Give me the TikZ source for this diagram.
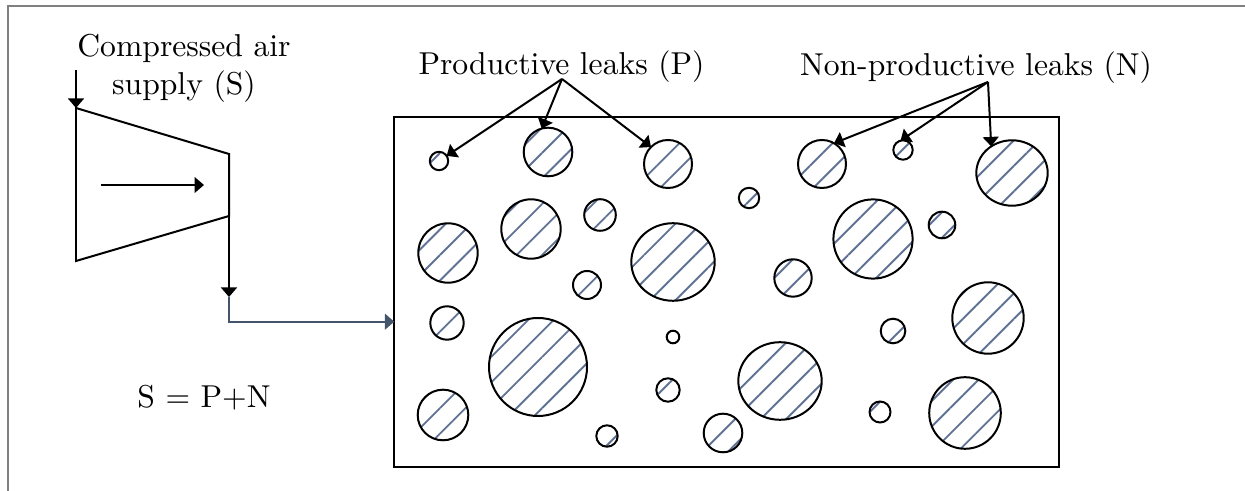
\documentclass[tikz,border=0pt]{standalone}
\usetikzlibrary{arrows.meta,shapes.geometric,patterns.meta}

\definecolor{pipeblue}{HTML}{44546A}
\definecolor{hatchblue}{HTML}{5F7294}
\definecolor{framegray}{HTML}{808080}
\newcommand{\pxu}{0.316pt}

\begin{document}
\begin{tikzpicture}[x=0.316pt, y=-0.316pt,
                    line width=0.63pt,
                    >={Triangle[length=3pt,width=5pt]}]
    \tikzstyle{label}=[inner sep=0pt, font=\fontsize{10}{12}\selectfont]
    \tikzstyle{pipe}=[draw=black, ->]
    \tikzstyle{flow}=[draw=pipeblue, ->]
    \tikzstyle{pointer}=[draw=black, ->]
    \tikzset{leak/.style={circle, draw=black, inner sep=0pt, outer sep=0pt,
                          minimum size=2*#1*\pxu,
                          pattern={Lines[angle=45,distance=5.7pt,line width=0.6pt]},
                          pattern color=hatchblue},
             oval/.style 2 args={leak=1, ellipse, minimum width=2*#1*\pxu, minimum height=2*#2*\pxu}}

    \useasboundingbox (0,0) rectangle (1245,491);
    \draw[framegray] (8,491) -- (8,6) -- (1245,6);

    % compressor
    \coordinate (cin) at (76,70);
    \coordinate (ca) at (76,108);
    \coordinate (cb) at (229,154);
    \coordinate (cc) at (229,216);
    \coordinate (cd) at (76,261);
    \coordinate (cout) at (229,297);
    \coordinate (sa) at (101,185);
    \coordinate (sb) at (204,185);
    \draw (ca) -- (cb) -- (cc) -- (cd) -- cycle;
    \draw[pipe] (cin) -- (ca);
    \draw[pipe] (sa) -- (sb);
    \draw[pipe] (cc) -- (cout);

    \node[label, align=center] (supply) at (184,68) {Compressed air\\supply (S)};
    \node[label, anchor=base] (balance) at (204,408) {S $=$ P$+$N};

    % tank
    \draw (394.3,116.7) rectangle (1059.3,466.7);
    \coordinate (tankin) at (394.3,321.7);
    \draw[flow] (cout) |- (tankin);

    % leaks
    \node[leak=9.2] (l1) at (439,161) {};
    \node[leak=24.3] (l2) at (548,152) {};
    \node[leak=24] (l3) at (668,164) {};
    \node[leak=24] (l4) at (822,164) {};
    \node[leak=9.7] (l5) at (903,150) {};
    \node[oval={35.7}{32.7}] (l6) at (1012,173) {};
    \node[leak=29.7] (l7) at (448,253) {};
    \node[leak=29.7] (l8) at (531,229) {};
    \node[leak=15.8] (l9) at (600,215) {};
    \node[oval={41.7}{38.8}] (l10) at (673,262) {};
    \node[leak=14] (l11) at (587,285) {};
    \node[leak=10.2] (l12) at (749,198) {};
    \node[leak=18.7] (l13) at (793,278) {};
    \node[leak=39.6] (l14) at (873,239) {};
    \node[leak=13.3] (l15) at (942,225) {};
    \node[leak=16.7] (l16) at (447,323) {};
    \node[leak=49] (l17) at (538,367) {};
    \node[leak=6.3] (l18) at (673,337) {};
    \node[leak=11.7] (l19) at (668,390) {};
    \node[oval={41.7}{38.8}] (l20) at (780,381) {};
    \node[leak=25.3] (l21) at (443,415) {};
    \node[leak=10.7] (l22) at (607,436) {};
    \node[leak=19.3] (l23) at (723,433) {};
    \node[leak=12.3] (l24) at (893,331) {};
    \node[leak=35.7] (l25) at (988,318) {};
    \node[leak=10.5] (l26) at (880,412) {};
    \node[leak=35.8] (l27) at (965,413) {};

    % labels
    \node[label, anchor=base] (prod) at (561.5,75) {Productive leaks (P)};
    \node[label, anchor=base] (nonprod) at (976,76) {Non-productive leaks (N)};
    \coordinate (ps) at (562,79);
    \coordinate (ns) at (988,82);
    \draw[pointer] (ps) -- (l1);
    \draw[pointer] (ps) -- (l2.105);
    \draw[pointer] (ps) -- (l3.135);
    \draw[pointer] (ns) -- (l4.60);
    \draw[pointer] (ns) -- (l5.105);
    \draw[pointer] (ns) -- (l6.128);
\end{tikzpicture}
\end{document}
